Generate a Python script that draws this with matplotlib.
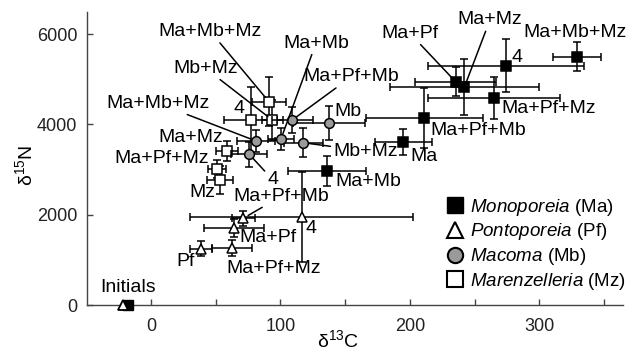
import matplotlib
matplotlib.use('Agg')
import matplotlib.pyplot as plt
from matplotlib.lines import Line2D

plt.rcParams['font.family'] = ['Liberation Sans', 'DejaVu Sans']
plt.rcParams['mathtext.fontset'] = 'custom'
plt.rcParams['mathtext.rm'] = 'Liberation Sans'
plt.rcParams['mathtext.it'] = 'Liberation Sans:italic'

# Monoporeia (Ma)
ma_lab = ['Ma', 'Ma+Pf', 'Ma+Mb', 'Ma+Mz', 'Ma+Pf+Mb', 'Ma+Pf+Mz', 'Ma+Mb+Mz', '4']
ma_x = [194.9, 235.3, 136.2, 242.0, 211.1, 265.1, 328.8, 274.2]
ma_y = [3604, 4946, 2968, 4822, 4135, 4578, 5500, 5301]
ma_xerr = [22, 31, 30, 57.5, 45, 51, 18.5, 60.5]
ma_yerr = [285, 315, 340, 620, 665, 465, 320, 580]

# Pontoporeia (Pf)
pf_lab = ['Pf', 'Ma+Pf', 'Ma+Pf+Mb', 'Ma+Pf+Mz', '4']
pf_x = [38.4, 64.3, 71.3, 62.8, 116.4]
pf_y = [1245, 1712, 1920, 1256, 1956]
pf_xerr = [8.4, 23, 9, 15.5, 86]
pf_yerr = [170, 200, 170, 180, 1000]

# Macoma (Mb)
mb_lab = ['Mb', 'Ma+Mb', 'Ma+Pf+Mb', 'Mb+Mz', 'Ma+Mb+Mz', '4']
mb_x = [137.5, 100.4, 109.1, 117.6, 81.1, 75.9]
mb_y = [4038, 3677, 4098, 3595, 3633, 3338]
mb_xerr = [28, 10, 16, 15, 15, 14]
mb_yerr = [380, 250, 295, 320, 250, 280]

# Marenzelleria (Mz)
mz_lab = ['Mz', 'Ma+Mz', 'Ma+Pf+Mz', 'Mb+Mz', 'Ma+Mb+Mz', '4']
mz_x = [53.3, 58.9, 50.7, 93.7, 91.1, 77.0]
mz_y = [2769, 3411, 3012, 4098, 4503, 4098]
mz_xerr = [10, 8.3, 7, 8, 13, 20.4]
mz_yerr = [300, 220, 200, 450, 540, 730]

# initial values
ini_x = [-22, -18]
ini_y = [0, 0]

legend_names = ['$\\it{Monoporeia}$ (Ma)', '$\\it{Pontoporeia}$ (Pf)',
                '$\\it{Macoma}$ (Mb)', '$\\it{Marenzelleria}$ (Mz)']

# label placement (text centre, draw leader line?)
ma_txt = [(210.9, 3285, False), (200, 6018, True), (167.8, 2731, False), (261.8, 6313, True),
          (253, 3876, False), (307, 4357, False), (327.8, 6025, False), (283, 5493, False)]
pf_txt = [(27, 959, False), (90, 1506, False), (100.8, 2414, True), (94.6, 813, False),
          (123.6, 1705, False)]
mb_txt = [(151.8, 4282, False), (127.4, 5797, True), (154.8, 5057, True), (165.7, 3411, True),
          (5.4, 4468, True), (94.2, 2769, True)]
mz_txt = [(39.8, 2503, False), (30.5, 3721, False), (8.1, 3256, False), (42.1, 5243, True),
          (46, 6055, True), (68, 4357, False)]

fig = plt.figure(figsize=(6.32, 3.52), dpi=100)
ax = fig.add_axes([0.1377, 0.1335, 0.8481, 0.8324])

eb = dict(ecolor='k', elinewidth=1.1, capsize=3, capthick=1.1, linestyle='none',
          mec='k', mew=1.1)
ax.errorbar(mz_x, mz_y, xerr=mz_xerr, yerr=mz_yerr, fmt='s', mfc='white', ms=6.5, zorder=3, **eb)
ax.errorbar(mb_x, mb_y, xerr=mb_xerr, yerr=mb_yerr, fmt='o', mfc='#9a9a9a', ms=7, zorder=4, **eb)
ax.errorbar(pf_x, pf_y, xerr=pf_xerr, yerr=pf_yerr, fmt='^', mfc='white', ms=7, zorder=3, **eb)
ax.errorbar(ma_x, ma_y, xerr=ma_xerr, yerr=ma_yerr, fmt='s', mfc='k', ms=7.5, zorder=5, **eb)
ax.plot(ini_x[1], ini_y[1], 's', color='k', ms=7, clip_on=False, zorder=6)
ax.plot(ini_x[0], ini_y[0], '^', mfc='white', mec='k', mew=1.3, ms=7, clip_on=False, zorder=7)
ax.text(-17.4, 377, 'Initials', fontsize=14, ha='center', va='center')

for labs, xs, ys, txt in [(ma_lab, ma_x, ma_y, ma_txt), (pf_lab, pf_x, pf_y, pf_txt),
                          (mb_lab, mb_x, mb_y, mb_txt), (mz_lab, mz_x, mz_y, mz_txt)]:
    for lab, px, py, (tx, ty, line) in zip(labs, xs, ys, txt):
        ap = dict(arrowstyle='-', color='k', lw=1.1, shrinkA=0, shrinkB=4) if line else None
        ax.annotate(lab, xy=(px, py), xytext=(tx, ty), fontsize=14, ha='center', va='center',
                    arrowprops=ap, zorder=8)

ax.set_xlim(-49.4, 364.6)
ax.set_ylim(0, 6490)
ax.set_xticks([0, 100, 200, 300])
ax.set_xticks([50, 150, 250, 350], minor=True)
ax.set_yticks([0, 2000, 4000, 6000])
ax.tick_params(which='both', direction='in', length=4, width=1, color='#444',
               labelsize=13, labelcolor='#222')
ax.tick_params(axis='x', pad=9)
ax.tick_params(axis='y', pad=7)
for s in ['top', 'right']:
    ax.spines[s].set_visible(False)
for s in ['left', 'bottom']:
    ax.spines[s].set_color('#444')
    ax.spines[s].set_linewidth(1)

ax.set_xlabel('δ$^{13}$C', fontsize=14, va='center', ha='center')
ax.set_ylabel('δ$^{15}$N', fontsize=14, va='center', ha='center')
ax.xaxis.set_label_coords(0.468, -0.119)
ax.yaxis.set_label_coords(-0.116, 0.478)

handles = [Line2D([], [], marker='s', color='k', ls='none', ms=11),
           Line2D([], [], marker='^', mfc='white', mec='k', mew=1.5, ls='none', ms=11),
           Line2D([], [], marker='o', mfc='#9a9a9a', mec='k', mew=1.5, ls='none', ms=11),
           Line2D([], [], marker='s', mfc='white', mec='k', mew=1.5, ls='none', ms=11)]
ax.legend(handles, legend_names, loc='upper left', bbox_to_anchor=(0.669, 0.37),
          frameon=False, fontsize=13.5, handlelength=1.0, handletextpad=0.3,
          labelspacing=0.2, borderpad=0, borderaxespad=0)

fig.savefig('out.png', dpi=100)
